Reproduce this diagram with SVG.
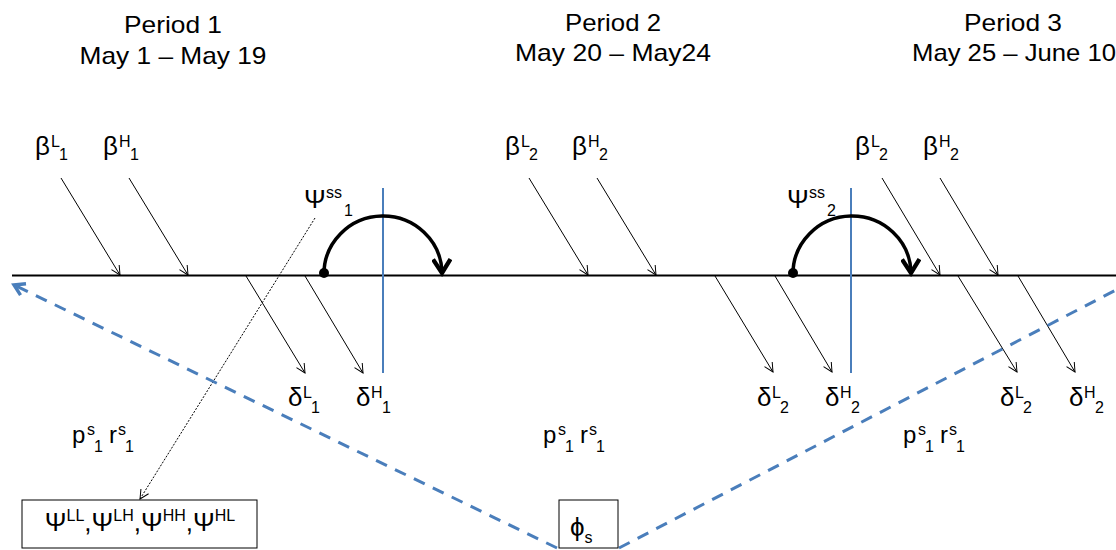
<svg xmlns="http://www.w3.org/2000/svg" width="1116" height="550" viewBox="0 0 1116 550">
<style>
  text { font-family: "Liberation Sans", "DejaVu Sans", sans-serif; fill: #000; }
  .hdr { font-size: 24px; text-anchor: middle; }
  .g { font-size: 26px; }
  .p { font-size: 24px; }
  .s { font-size: 16px; }
  .thin { stroke: #000; stroke-width: 1; fill: none; marker-end: url(#open); }
  .blue { stroke: #4A7EBB; stroke-width: 2; fill: none; }
  .bdash { stroke: #4A7EBB; stroke-width: 3; fill: none; stroke-dasharray: 12 9; }
  .arc { stroke: #000; stroke-width: 3.5; fill: none; marker-end: url(#thick); }
  .box { fill: #fff; stroke: #000; stroke-width: 1; }
</style>
<defs>
  <marker id="open" markerUnits="userSpaceOnUse" markerWidth="12" markerHeight="12" refX="10" refY="5" orient="auto" viewBox="0 0 12 10">
    <path d="M1,0.5 L10,5 L1,9.5" fill="none" stroke="#000" stroke-width="1"/>
  </marker>
  <marker id="thick" markerUnits="userSpaceOnUse" markerWidth="20" markerHeight="20" refX="13" refY="8" orient="auto" viewBox="0 0 16 16">
    <path d="M2,1 L13,8 L2,15" fill="none" stroke="#000" stroke-width="3.5"/>
  </marker>
  <marker id="bopen" markerUnits="userSpaceOnUse" markerWidth="16" markerHeight="16" refX="11" refY="7" orient="auto" viewBox="0 0 14 14">
    <path d="M2,1.5 L11,7 L2,12.5" fill="none" stroke="#4A7EBB" stroke-width="3"/>
  </marker>
  <marker id="small" markerUnits="userSpaceOnUse" markerWidth="12" markerHeight="12" refX="10" refY="5" orient="auto" viewBox="0 0 12 10">
    <path d="M1,0.5 L10,5 L1,9.5" fill="none" stroke="#000" stroke-width="1"/>
  </marker>
</defs>

<g id="headers">
  <text class="hdr" x="173" y="33" textLength="98" lengthAdjust="spacingAndGlyphs">Period 1</text>
  <text class="hdr" x="173" y="64" textLength="187" lengthAdjust="spacingAndGlyphs">May 1 – May 19</text>
  <text class="hdr" x="613" y="31" textLength="96" lengthAdjust="spacingAndGlyphs">Period 2</text>
  <text class="hdr" x="613" y="61" textLength="196" lengthAdjust="spacingAndGlyphs">May 20 – May24</text>
  <text class="hdr" x="1013" y="31" textLength="98" lengthAdjust="spacingAndGlyphs">Period 3</text>
  <text class="hdr" x="1014" y="61" textLength="204" lengthAdjust="spacingAndGlyphs">May 25 – June 10</text>
</g>

<g id="connectors">
  <line x1="12" y1="275.5" x2="1116" y2="275.5" stroke="#000" stroke-width="2.2"/>
  <line class="blue" x1="383" y1="188" x2="383" y2="373"/>
  <line class="blue" x1="851" y1="188" x2="851" y2="373"/>
  <line class="thin" x1="61" y1="178" x2="120" y2="275"/>
  <line class="thin" x1="129" y1="178" x2="188" y2="275"/>
  <line class="thin" x1="529" y1="178" x2="588" y2="275"/>
  <line class="thin" x1="597" y1="178" x2="656" y2="275"/>
  <line class="thin" x1="882" y1="178" x2="940" y2="275"/>
  <line class="thin" x1="940" y1="178" x2="998" y2="275"/>
  <line class="thin" x1="246" y1="276" x2="305" y2="373"/>
  <line class="thin" x1="305" y1="276" x2="363" y2="373"/>
  <line class="thin" x1="715" y1="276" x2="773" y2="372"/>
  <line class="thin" x1="775" y1="276" x2="832" y2="372"/>
  <line class="thin" x1="958" y1="276" x2="1017" y2="372"/>
  <line class="thin" x1="1018" y1="276" x2="1075" y2="372"/>
  <path class="arc" d="M324,275 A59,58 0 0 1 442,273"/>
  <circle cx="324" cy="273" r="5" fill="#000"/>
  <path class="arc" d="M793,275 A59,58 0 0 1 911,273"/>
  <circle cx="793" cy="273" r="5" fill="#000"/>
  <line x1="315" y1="218" x2="140" y2="499" stroke="#000" stroke-width="1" stroke-dasharray="2 1.5" marker-end="url(#small)"/>
  <line class="bdash" x1="557" y1="548" x2="14" y2="285" marker-end="url(#bopen)"/>
  <line class="bdash" x1="619" y1="548" x2="1116" y2="290"/>
</g>

<g id="beta-labels">
  <text class="g" x="35" y="155">β<tspan class="s" x="51" y="147">L</tspan><tspan class="s" x="59" y="160">1</tspan></text>
  <text class="g" x="103" y="155">β<tspan class="s" x="119" y="147">H</tspan><tspan class="s" x="130" y="160">1</tspan></text>
  <text class="g" x="505" y="155">β<tspan class="s" x="521" y="147">L</tspan><tspan class="s" x="529" y="160">2</tspan></text>
  <text class="g" x="572" y="155">β<tspan class="s" x="588" y="147">H</tspan><tspan class="s" x="599" y="160">2</tspan></text>
  <text class="g" x="855" y="155">β<tspan class="s" x="871" y="147">L</tspan><tspan class="s" x="879" y="160">2</tspan></text>
  <text class="g" x="923" y="155">β<tspan class="s" x="939" y="147">H</tspan><tspan class="s" x="950" y="160">2</tspan></text>
</g>

<g id="delta-labels">
  <text class="g" x="288" y="406">δ<tspan class="s" x="303" y="398">L</tspan><tspan class="s" x="311" y="413">1</tspan></text>
  <text class="g" x="356" y="406">δ<tspan class="s" x="371" y="398">H</tspan><tspan class="s" x="382" y="413">1</tspan></text>
  <text class="g" x="757" y="406">δ<tspan class="s" x="772" y="398">L</tspan><tspan class="s" x="780" y="413">2</tspan></text>
  <text class="g" x="825" y="406">δ<tspan class="s" x="840" y="398">H</tspan><tspan class="s" x="851" y="413">2</tspan></text>
  <text class="g" x="1000" y="406">δ<tspan class="s" x="1015" y="398">L</tspan><tspan class="s" x="1023" y="413">2</tspan></text>
  <text class="g" x="1069" y="406">δ<tspan class="s" x="1084" y="398">H</tspan><tspan class="s" x="1095" y="413">2</tspan></text>
</g>

<g id="psi-labels">
  <text class="g" x="304" y="208">Ψ<tspan class="s" x="326" y="198">ss</tspan><tspan class="s" x="344" y="216">1</tspan></text>
  <text class="g" x="787" y="208">Ψ<tspan class="s" x="809" y="198">ss</tspan><tspan class="s" x="827" y="216">2</tspan></text>
</g>

<g id="pr-labels">
  <text class="p" x="72" y="443">p<tspan class="s" x="87" y="435">s</tspan><tspan class="s" x="94" y="452">1</tspan><tspan x="109" y="443">r</tspan><tspan class="s" x="118" y="435">s</tspan><tspan class="s" x="125" y="452">1</tspan></text>
  <text class="p" x="543" y="443">p<tspan class="s" x="558" y="435">s</tspan><tspan class="s" x="565" y="452">1</tspan><tspan x="580" y="443">r</tspan><tspan class="s" x="589" y="435">s</tspan><tspan class="s" x="596" y="452">1</tspan></text>
  <text class="p" x="903" y="443">p<tspan class="s" x="918" y="435">s</tspan><tspan class="s" x="925" y="452">1</tspan><tspan x="940" y="443">r</tspan><tspan class="s" x="949" y="435">s</tspan><tspan class="s" x="956" y="452">1</tspan></text>
</g>

<g id="psi-box">
  <rect class="box" x="22" y="500" width="235" height="48"/>
  <text class="g" x="140" y="531" text-anchor="middle">Ψ<tspan class="s" dy="-10">LL</tspan><tspan dy="10">,Ψ</tspan><tspan class="s" dy="-10">LH</tspan><tspan dy="10">,Ψ</tspan><tspan class="s" dy="-10">HH</tspan><tspan dy="10">,Ψ</tspan><tspan class="s" dy="-10">HL</tspan></text>
</g>

<g id="phi-box">
  <rect class="box" x="559" y="500" width="59" height="48"/>
  <text class="g" x="570" y="536">ϕ<tspan class="s" y="543">s</tspan></text>
</g>
</svg>
